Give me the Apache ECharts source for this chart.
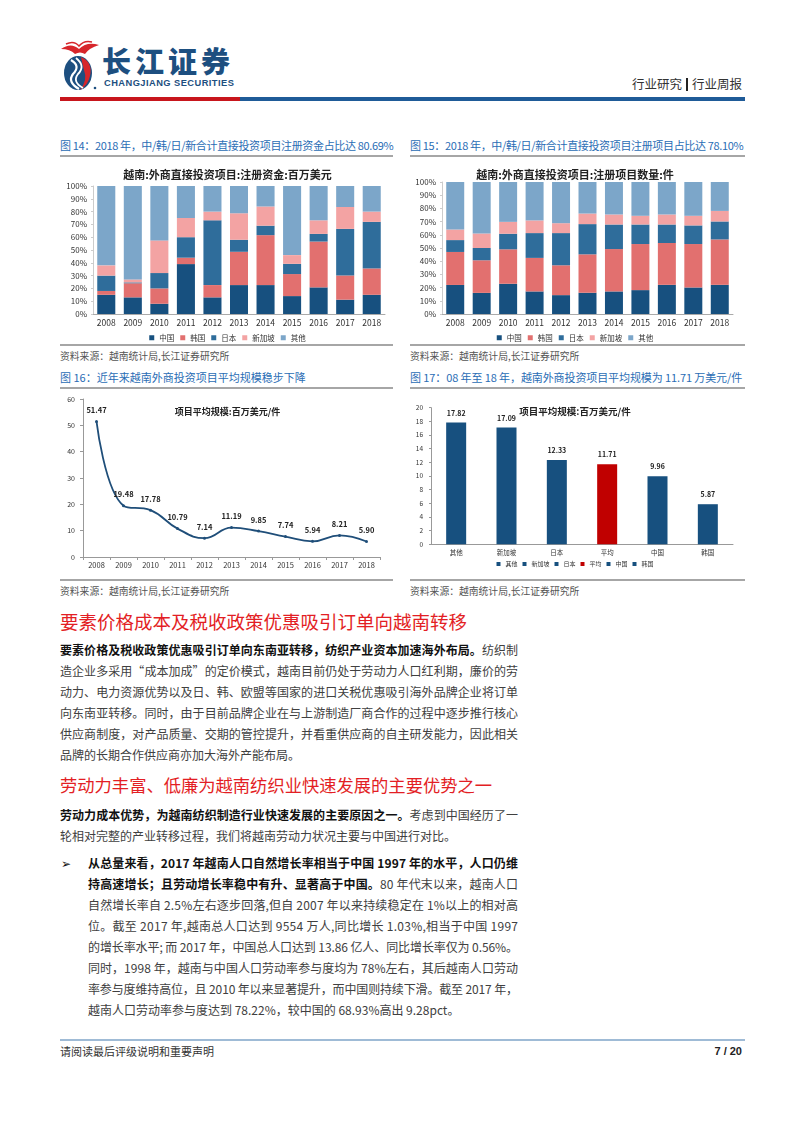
<!DOCTYPE html>
<html><head><meta charset="utf-8">
<script src="https://cdn.jsdelivr.net/npm/echarts@6/dist/echarts.min.js"></script>
<style>
body{margin:0;width:802px;height:1133px;position:relative;background:#fff;font-family:"Noto Sans CJK SC","Noto Sans",sans-serif;color:#333;overflow:hidden}
.figt{position:absolute;font-size:11px;color:#2a6db5;white-space:nowrap;line-height:16px}
.figt.n{letter-spacing:-0.35px}
.rule{position:absolute;height:2px;background:#a6a6a6}
.src{position:absolute;font-size:9.8px;color:#555;white-space:nowrap;line-height:14px}
.h{position:absolute;left:60px;color:#e31e24;white-space:nowrap;line-height:24px}
.ln{position:absolute;font-size:12px;line-height:16px;color:#404040;white-space:nowrap}
.ln b{color:#111;font-weight:bold}
.chart{position:absolute}
</style></head>
<body>
<!-- header -->
<svg style="position:absolute;left:58px;top:40px" width="44" height="52" viewBox="0 0 44 52">
 <path d="M3 9 Q13 2 21 9 Q29 1 41 5 Q31 8 27 14 Q22 11 17 14 Q12 9 3 9Z" fill="#d7262b"/>
 <path d="M8 4 Q16 0 21 6 Q26 0 34 2" stroke="#d7262b" stroke-width="1.5" fill="none"/>
 <ellipse cx="20" cy="33" rx="14" ry="17" fill="#1d4f80"/>
 <path d="M23 17 Q35 22 32 36 Q30 45 22 50 Q30 40 26 30 Q24 22 23 17Z" fill="#d7262b"/>
 <path d="M13 20 Q23 26 15 34 Q9 42 21 49" stroke="#fff" stroke-width="2.2" fill="none"/>
 <path d="M18 18 Q28 26 20 34 Q14 42 25 48" stroke="#fff" stroke-width="1.8" fill="none"/>
 <circle cx="37" cy="48" r="1.3" fill="#1d4f80"/>
</svg>
<div style="position:absolute;left:102px;top:43px;font-size:29px;font-weight:900;color:#1d4f80;letter-spacing:4px;line-height:34px;white-space:nowrap">长江证券</div>
<div style="position:absolute;left:104px;top:77px;font-family:'Liberation Sans',Arial,sans-serif;font-size:9.3px;font-weight:bold;color:#1d4f80;letter-spacing:0.45px;line-height:12px;white-space:nowrap">CHANGJIANG SECURITIES</div>
<div style="position:absolute;right:60px;top:76px;font-size:12.5px;color:#333;line-height:16px;white-space:nowrap">行业研究<span style="display:inline-block;width:2px;height:13px;background:#222;margin:0 4px;vertical-align:-2px"></span>行业周报</div>
<div style="position:absolute;left:60px;top:97px;width:180px;height:4px;background:#c8161d"></div>
<div style="position:absolute;left:240px;top:97px;width:505px;height:4px;background:#1f5b98"></div>

<!-- figure titles row 1 -->
<div class="figt n" style="left:60px;top:137px">图 14：2018 年，中/韩/日/新合计直接投资项目注册资金占比达 80.69%</div>
<div class="figt n" style="left:410px;top:137px">图 15：2018 年，中/韩/日/新合计直接投资项目注册项目占比达 78.10%</div>
<div class="rule" style="left:60px;top:155px;width:333px"></div>
<div class="rule" style="left:410px;top:155px;width:335px"></div>

<div id="c14" class="chart" style="left:60px;top:160px;width:335px;height:182px"></div>
<div id="c15" class="chart" style="left:405px;top:160px;width:340px;height:182px"></div>

<div class="rule" style="left:60px;top:344px;width:333px"></div>
<div class="rule" style="left:410px;top:344px;width:335px"></div>
<div class="src" style="left:60px;top:349px">资料来源：越南统计局,长江证券研究所</div>
<div class="src" style="left:410px;top:349px">资料来源：越南统计局,长江证券研究所</div>

<div class="figt" style="left:60px;top:369px">图 16：近年来越南外商投资项目平均规模稳步下降</div>
<div class="figt" style="left:410px;top:369px;letter-spacing:-0.1px">图 17：08 年至 18 年，越南外商投资项目平均规模为 11.71 万美元/件</div>
<div class="rule" style="left:60px;top:387px;width:333px"></div>
<div class="rule" style="left:410px;top:387px;width:335px"></div>

<div id="c16" class="chart" style="left:60px;top:390px;width:335px;height:188px"></div>
<div id="c17" class="chart" style="left:405px;top:390px;width:340px;height:188px"></div>

<div class="rule" style="left:60px;top:579px;width:333px"></div>
<div class="rule" style="left:410px;top:579px;width:335px"></div>
<div class="src" style="left:60px;top:584px">资料来源：越南统计局,长江证券研究所</div>
<div class="src" style="left:410px;top:584px">资料来源：越南统计局,长江证券研究所</div>

<!-- body text -->
<div class="h" style="top:609px;font-size:18.5px">要素价格成本及税收政策优惠吸引订单向越南转移</div>
<div class="ln j" style="left:60px;width:458px;top:642px"><b>要素价格及税收政策优惠吸引订单向东南亚转移，纺织产业资本加速海外布局。</b>纺织制</div>
<div class="ln j" style="left:60px;width:458px;top:663px">造企业多采用“成本加成”的定价模式，越南目前仍处于劳动力人口红利期，廉价的劳</div>
<div class="ln j" style="left:60px;width:458px;top:684px">动力、电力资源优势以及日、韩、欧盟等国家的进口关税优惠吸引海外品牌企业将订单</div>
<div class="ln j" style="left:60px;width:458px;top:705px">向东南亚转移。同时，由于目前品牌企业在与上游制造厂商合作的过程中逐步推行核心</div>
<div class="ln j" style="left:60px;width:458px;top:726px">供应商制度，对产品质量、交期的管控提升，并看重供应商的自主研发能力，因此相关</div>
<div class="ln" style="left:60px;width:458px;top:747px">品牌的长期合作供应商亦加大海外产能布局。</div>

<div class="h" style="top:773px;font-size:17.3px">劳动力丰富、低廉为越南纺织业快速发展的主要优势之一</div>
<div class="ln j" style="left:60px;width:458px;top:807px"><b>劳动力成本优势，为越南纺织制造行业快速发展的主要原因之一。</b>考虑到中国经历了一</div>
<div class="ln" style="left:60px;width:458px;top:828px">轮相对完整的产业转移过程，我们将越南劳动力状况主要与中国进行对比。</div>

<div style="position:absolute;left:61px;top:855px;font-size:12px;line-height:16px;color:#111">➢</div>
<div class="ln j" style="left:88px;width:430px;top:855px"><b>从总量来看，2017 年越南人口自然增长率相当于中国 1997 年的水平，人口仍维</b></div>
<div class="ln j" style="left:88px;width:430px;top:876px"><b>持高速增长；且劳动增长率稳中有升、显著高于中国。</b>80 年代末以来，越南人口</div>
<div class="ln j" style="left:88px;width:430px;top:897px">自然增长率自 2.5%左右逐步回落,但自 2007 年以来持续稳定在 1%以上的相对高</div>
<div class="ln j" style="left:88px;width:430px;top:918px">位。截至 2017 年,越南总人口达到 9554 万人,同比增长 1.03%,相当于中国 1997</div>
<div class="ln j" style="left:88px;width:430px;top:939px">的增长率水平; 而 2017 年，中国总人口达到 13.86 亿人、同比增长率仅为 0.56%。</div>
<div class="ln j" style="left:88px;width:430px;top:960px">同时，1998 年，越南与中国人口劳动率参与度均为 78%左右，其后越南人口劳动</div>
<div class="ln j" style="left:88px;width:430px;top:981px">率参与度维持高位，且 2010 年以来显著提升，而中国则持续下滑。截至 2017 年，</div>
<div class="ln" style="left:88px;width:430px;top:1002px">越南人口劳动率参与度达到 78.22%，较中国的 68.93%高出 9.28pct。</div>

<!-- footer -->
<div style="position:absolute;left:60px;top:1039px;width:685px;height:1.5px;background:#9fbbd6"></div>
<div style="position:absolute;left:60px;top:1044px;font-size:11px;color:#333;line-height:14px">请阅读最后评级说明和重要声明</div>
<div style="position:absolute;right:60px;top:1044px;font-size:11px;color:#222;font-weight:bold;line-height:14px;font-family:'Liberation Sans',Arial,sans-serif">7 / 20</div>

<script>
// ---------- data ----------
const years = ['2008','2009','2010','2011','2012','2013','2014','2015','2016','2017','2018'];
const stackNames = ['中国','韩国','日本','新加坡','其他'];
// Fig14: share of registered capital (%)
const capChina = [15, 13, 8, 39, 13, 22.6, 22.6, 14, 20.8, 11.2, 15];
const capKorea = [3, 11, 12, 5, 9.6, 26, 39, 17.2, 35.8, 18.9, 20.6];
const capJapan = [12, 0.7, 12, 16, 50.6, 9.4, 7.4, 8, 6, 36.4, 36.4];
const capSing  = [8, 2.3, 25.5, 15, 6.8, 20.7, 15, 6.8, 10.6, 17.1, 8];
const capOther = [62, 73, 42.5, 25, 20, 21.3, 16, 54, 26.8, 16.4, 20];
// Fig15: share of registered projects (%)
const cntChina = [22, 16, 22.9, 17.1, 14.3, 16.1, 17.1, 18.1, 22.1, 20.1, 22.1];
const cntKorea = [25, 24.7, 26.1, 25.4, 22.6, 29.1, 32.1, 34.9, 31.7, 32.9, 34.4];
const cntJapan = [9, 9.3, 11.8, 18.8, 24.4, 22.9, 18.6, 14.8, 14, 14.1, 13.6];
const cntSing  = [8, 11, 9, 9.6, 7.5, 8, 7.6, 6.6, 7.6, 7.3, 8];
const cntOther = [36, 39, 30.2, 29.1, 31.2, 23.9, 24.6, 25.6, 24.6, 25.6, 21.9];
// Fig16: average project size (USD mn / project)
const avgSize = [51.47, 19.48, 17.78, 10.79, 7.14, 11.19, 9.85, 7.74, 5.94, 8.21, 5.90];
// Fig17: average project size by origin
const origins = ['其他','新加坡','日本','平均','中国','韩国'];
const originSize = [17.82, 17.09, 12.33, 11.71, 9.96, 5.87];

// justify each body line to its box width
document.querySelectorAll('.ln.j').forEach(el=>{
  const W = el.clientWidth;
  const r = document.createRange(); r.selectNodeContents(el);
  const w = r.getBoundingClientRect().width;
  const n = el.textContent.length;
  el.style.letterSpacing = ((W - w) / (n - 1)) + 'px';
});

const FONT = '"Noto Sans CJK SC","Noto Sans",sans-serif';
const stackColors = ['#17507f','#e2706f','#2f6d9b','#f3a3a3','#7ca6c9'];

function stackOption(title, arrays){
  return {
    animation:false,
    textStyle:{fontFamily:FONT},
    title:{text:title,left:'center',top:4,textStyle:{fontSize:11,fontWeight:'bold',color:'#222',fontFamily:FONT}},
    color:stackColors,
    legend:{top:169,left:'center',icon:'rect',itemWidth:5,itemHeight:5,itemGap:6,textStyle:{fontSize:7.5,color:'#333'},data:stackNames},
    grid:{left:0,right:0,top:0,bottom:0},
    xAxis:{type:'category',data:years,axisLine:{lineStyle:{color:'#aaa'}},axisTick:{show:false},axisLabel:{fontSize:8.5,color:'#333',margin:5}},
    yAxis:{type:'value',min:0,max:100,interval:10,axisLabel:{formatter:'{value}%',fontSize:8,color:'#333',margin:6},splitLine:{show:false},axisLine:{show:true,lineStyle:{color:'#ccc'}},axisTick:{show:true,length:2,lineStyle:{color:'#ccc'}}},
    series:arrays.map((d,i)=>({name:stackNames[i],type:'bar',stack:'s',data:d,barWidth:'68%'}))
  };
}

const o14 = stackOption('越南:外商直接投资项目:注册资金:百万美元',[capChina,capKorea,capJapan,capSing,capOther]);
o14.grid = {left:33,right:10,top:26,bottom:28};
echarts.init(document.getElementById('c14')).setOption(o14);

const o15 = stackOption('越南:外商直接投资项目:注册项目数量:件',[cntChina,cntKorea,cntJapan,cntSing,cntOther]);
o15.grid = {left:37,right:12,top:22,bottom:28};
echarts.init(document.getElementById('c15')).setOption(o15);

echarts.init(document.getElementById('c16')).setOption({
  animation:false,
  textStyle:{fontFamily:FONT},
  title:{text:'项目平均规模:百万美元/件',left:'center',top:12,textStyle:{fontSize:9,fontWeight:'bold',color:'#222',fontFamily:FONT}},
  grid:{left:23,right:15,top:9,bottom:21},
  xAxis:{type:'category',data:years,axisLine:{lineStyle:{color:'#999'}},axisTick:{show:true,length:3,lineStyle:{color:'#999'}},axisLabel:{fontSize:7.5,color:'#333',margin:4}},
  yAxis:{type:'value',min:0,max:60,interval:10,axisLabel:{fontSize:7,color:'#333',margin:8},splitLine:{show:false},axisLine:{show:true,lineStyle:{color:'#999'}},axisTick:{show:true,length:3,lineStyle:{color:'#999'}}},
  series:[{type:'line',data:avgSize,smooth:0.45,symbol:'circle',symbolSize:3,
    lineStyle:{color:'#1f4e79',width:1.8},itemStyle:{color:'#1f4e79'},
    label:{show:true,position:'top',distance:6,fontSize:7.5,fontWeight:'bold',color:'#222',formatter:p=>p.value.toFixed(2)}}]
});

const c17Colors = origins.map(n=>n==='平均'?'#c00000':'#17507f');
echarts.init(document.getElementById('c17')).setOption({
  animation:false,
  textStyle:{fontFamily:FONT},
  title:{text:'项目平均规模:百万美元/件',left:'center',top:12,textStyle:{fontSize:9.5,fontWeight:'bold',color:'#222',fontFamily:FONT}},
  legend:{top:166,left:'center',icon:'rect',itemWidth:4,itemHeight:4,itemGap:5,textStyle:{fontSize:6,color:'#333'},data:origins},
  grid:{left:26,right:12,top:17.7,bottom:33.7},
  xAxis:{type:'category',data:origins,axisLine:{lineStyle:{color:'#999'}},axisTick:{show:false},axisLabel:{fontSize:6.5,color:'#333',margin:5}},
  yAxis:{type:'value',min:0,max:20,interval:2,axisLabel:{fontSize:6.5,color:'#333',margin:8},splitLine:{show:false},axisLine:{show:true,lineStyle:{color:'#999'}},axisTick:{show:true,length:2,lineStyle:{color:'#999'}}},
  series:origins.map((n,i)=>({name:n,type:'bar',stack:'one',barWidth:20,
    itemStyle:{color:c17Colors[i]},
    data:originSize.map((v,j)=>j===i?v:'-'),
    label:{show:true,position:'top',distance:6,fontSize:7,fontWeight:'bold',color:'#222',formatter:p=>Number(p.value).toFixed(2)}}))
});
</script>
</body></html>
